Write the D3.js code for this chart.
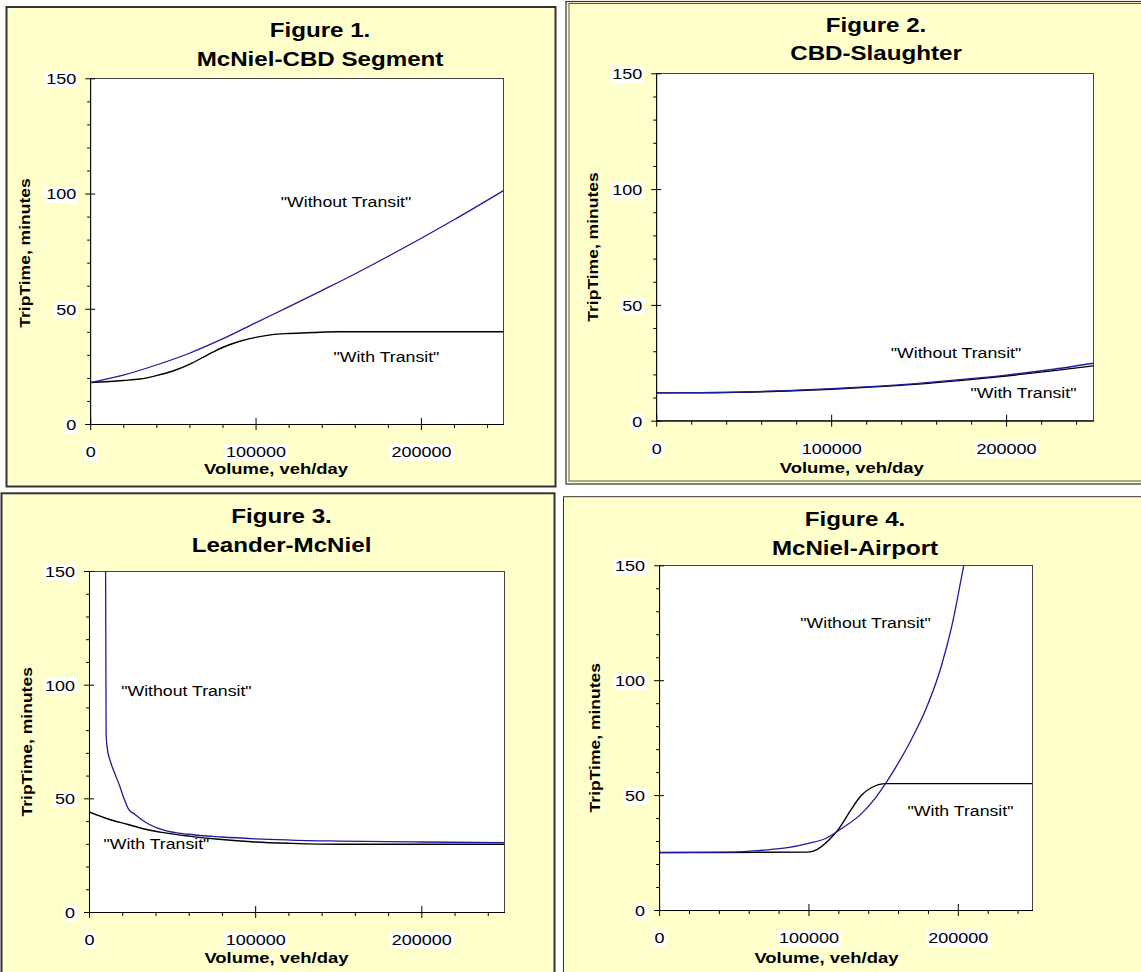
<!DOCTYPE html>
<html><head><meta charset="utf-8">
<script src="https://cdn.jsdelivr.net/npm/d3@7"></script>
<style>body{margin:0;background:#fff}svg{display:block}</style>
</head><body>
<svg id="chart" width="1141" height="972"></svg>
<script>
// ---------------- DATA ----------------
const xAxisTitle = "Volume, veh/day";
const yAxisTitle = "TripTime, minutes";
const withoutLabel = '"Without Transit"';
const withLabel = '"With Transit"';
const xTickValues = [0, 100000, 200000];
const xMinorTicks = [20000, 40000, 60000, 80000, 120000, 140000, 160000, 180000, 220000, 240000];
const yTickValues = [0, 50, 100, 150];
const yMinorTicks = [10, 20, 30, 40, 60, 70, 80, 90, 110, 120, 130, 140];
const xDomain = [0, 250000];
const yDomain = [0, 150];

// Figure 1. McNiel-CBD Segment
const fig1Title = ["Figure 1.", "McNiel-CBD Segment"];
const fig1WithoutVolume = [0, 20000, 40000, 60000, 80000, 100000, 120000, 140000, 160000, 180000, 200000, 220000, 250000];
const fig1WithoutTime   = [18, 21.2, 25.6, 30.7, 36.9, 43.9, 50.8, 57.9, 65.1, 72.7, 80.5, 88.6, 101.3];
const fig1WithVolume = [0, 20000, 30000, 40000, 50000, 60000, 70000, 80000, 90000, 100000, 110000, 120000, 135000, 150000, 200000, 250000];
const fig1WithTime   = [18, 18.9, 19.5, 21, 23, 25.9, 29.6, 33.2, 35.8, 37.6, 38.8, 39.3, 39.7, 40, 40, 40];

// Figure 2. CBD-Slaughter
const fig2Title = ["Figure 2.", "CBD-Slaughter"];
const fig2WithoutVolume = [0, 25000, 50000, 75000, 100000, 125000, 150000, 175000, 200000, 225000, 250000];
const fig2WithoutTime   = [12, 12.1, 12.4, 13.0, 13.8, 14.8, 16.1, 17.8, 19.7, 22.0, 24.8];
const fig2WithVolume = [0, 25000, 50000, 75000, 100000, 125000, 150000, 175000, 200000, 225000, 250000];
const fig2WithTime   = [12, 12.0, 12.3, 12.8, 13.6, 14.6, 15.8, 17.4, 19.3, 21.4, 23.7];

// Figure 3. Leander-McNiel
const fig3Title = ["Figure 3.", "Leander-McNiel"];
const fig3WithoutVolume = [9950, 10300, 11000, 13000, 15500, 18700, 21000, 23600, 27500, 34000, 45000, 60000, 80000, 100000, 150000, 200000, 250000];
const fig3WithoutTime   = [160, 78, 72, 66, 61, 55, 50, 45.5, 43, 39.5, 36, 34.2, 33, 32.2, 31.2, 30.8, 30.5];
const fig3WithVolume = [0, 12000, 23000, 34000, 45000, 60000, 78000, 100000, 122000, 150000, 200000, 250000];
const fig3WithTime   = [44, 40.8, 38.6, 36.4, 34.9, 33.4, 32, 30.8, 30.2, 29.8, 29.8, 29.8];

// Figure 4. McNiel-Airport
const fig4Title = ["Figure 4.", "McNiel-Airport"];
const fig4WithoutVolume = [0, 50000, 69000, 86000, 100000, 111000, 123000, 135000, 145000, 152000, 159000, 169000, 179000, 189000, 196000, 204000, 210000];
const fig4WithoutTime   = [25, 25.2, 26, 27.1, 29, 31, 35.8, 41.6, 48.9, 55.4, 62.7, 74.3, 88, 106.2, 123.6, 150, 170];
const fig4WithVolume = [0, 100000, 106000, 113000, 120000, 128000, 135000, 142000, 152000, 200000, 250000];
const fig4WithTime   = [25, 25.2, 26.4, 30, 35.1, 43.1, 49.6, 53.2, 55, 55, 55];

// ---------------- LAYOUT ----------------
const FONT = 'Arial, "Liberation Sans", Helvetica, sans-serif';
const COLORS = { panel: "#FFFFCC", without: "#1c1c9c", with: "#000000" };

const layouts = [
  { box: {x1: 6.5, y1: 7, x2: 555.5, y2: 486.5}, border: "thick",
    plot: {l: 90.2, r: 503.6, t: 78.3, b: 424}, titleX: 320, titleY: [37, 66],
    yLab: {x: 24.5, y: 253}, xLab: {x: 276, y: 474},
    wo: {x: 346, y: 206.7}, wi: {x: 386.4, y: 361.7} },
  { box: {x1: 566, y1: 1.5, x2: 1150, y2: 484}, border: "double",
    plot: {l: 656.2, r: 1093.6, t: 73.3, b: 420.7}, titleX: 876, titleY: [32, 59.5],
    yLab: {x: 592, y: 247}, xLab: {x: 851.8, y: 473},
    wo: {x: 956, y: 358.3}, wi: {x: 1023.5, y: 398.3} },
  { box: {x1: 1.5, y1: 493.3, x2: 554.5, y2: 985}, border: "thick",
    plot: {l: 89, r: 504.4, t: 571, b: 912}, titleX: 281.5, titleY: [523, 552],
    yLab: {x: 26, y: 741.8}, xLab: {x: 276.4, y: 962.5},
    wo: {x: 186.4, y: 696}, wi: {x: 156.4, y: 848.7} },
  { box: {x1: 563.5, y1: 496.7, x2: 1150, y2: 985}, border: "thin",
    plot: {l: 659.1, r: 1032.5, t: 565.3, b: 910}, titleX: 855, titleY: [526, 555.3],
    yLab: {x: 594, y: 737.7}, xLab: {x: 826.4, y: 963},
    wo: {x: 865.5, y: 627.7}, wi: {x: 960.5, y: 816} }
];

const figures = [
  { title: fig1Title, without: d3.zip(fig1WithoutVolume, fig1WithoutTime), with: d3.zip(fig1WithVolume, fig1WithTime) },
  { title: fig2Title, without: d3.zip(fig2WithoutVolume, fig2WithoutTime), with: d3.zip(fig2WithVolume, fig2WithTime) },
  { title: fig3Title, without: d3.zip(fig3WithoutVolume, fig3WithoutTime), with: d3.zip(fig3WithVolume, fig3WithTime) },
  { title: fig4Title, without: d3.zip(fig4WithoutVolume, fig4WithoutTime), with: d3.zip(fig4WithVolume, fig4WithTime) }
];

const svg = d3.select("#chart");
const defs = svg.append("defs");
const SVGNS = "http://www.w3.org/2000/svg";

function addText(g, str, x, y, o) {
  const t = g.append("text")
    .attr("transform", `translate(${x},${y})` + (o.rotate ? ` rotate(${o.rotate})` : "") + ` scale(${o.sx || 1},1)`)
    .attr("text-anchor", o.anchor || "middle")
    .attr("font-family", FONT)
    .attr("font-size", o.size)
    .attr("font-weight", o.weight || "normal")
    .attr("fill", "#000")
    .text(str);
  if (o.dy) t.attr("dy", o.dy);
  return t;
}

function addBg(textSel, pad) {
  textSel.nodes().forEach(node => {
    const bb = node.getBBox();
    const r = document.createElementNS(SVGNS, "rect");
    r.setAttribute("transform", node.getAttribute("transform"));
    r.setAttribute("x", bb.x - pad);
    r.setAttribute("y", bb.y + 1);
    r.setAttribute("width", bb.width + 2 * pad);
    r.setAttribute("height", bb.height - 1);
    r.setAttribute("fill", "#ffffff");
    r.setAttribute("stroke", "none");
    node.parentNode.insertBefore(r, node);
  });
}

figures.forEach((fig, i) => {
  const L = layouts[i];
  const g = svg.append("g");

  // panel box
  const b = L.box;
  g.append("rect").attr("x", b.x1).attr("y", b.y1)
    .attr("width", b.x2 - b.x1).attr("height", b.y2 - b.y1)
    .attr("fill", COLORS.panel)
    .attr("stroke", "#333")
    .attr("stroke-width", L.border === "thin" ? 1 : (L.border === "double" ? 1.2 : 2));
  if (L.border === "double") {
    g.append("rect").attr("x", b.x1 + 3).attr("y", b.y1 + 2)
      .attr("width", b.x2 - b.x1 - 6).attr("height", b.y2 - b.y1 - 5)
      .attr("fill", "none").attr("stroke", "#555").attr("stroke-width", 1);
  }

  const P = L.plot;
  const x = d3.scaleLinear().domain(xDomain).range([P.l, P.r]);
  const y = d3.scaleLinear().domain(yDomain).range([P.b, P.t]);

  // plot area
  g.append("rect").attr("x", P.l).attr("y", P.t)
    .attr("width", P.r - P.l).attr("height", P.b - P.t)
    .attr("fill", "#fff").attr("stroke", "#444").attr("stroke-width", 1)
    .attr("shape-rendering", "crispEdges");

  const clipId = "clip" + i;
  defs.append("clipPath").attr("id", clipId).append("rect")
    .attr("x", P.l).attr("y", P.t).attr("width", P.r - P.l).attr("height", P.b - P.t);

  // titles
  addText(g, fig.title[0], L.titleX, L.titleY[0], {size: 21, weight: "bold", sx: 1.15});
  addText(g, fig.title[1], L.titleX, L.titleY[1], {size: 21, weight: "bold", sx: 1.15});

  // axis titles
  addText(g, xAxisTitle, L.xLab.x, L.xLab.y, {size: 15.5, weight: "bold", sx: 1.19});
  addText(g, yAxisTitle, L.yLab.x, L.yLab.y, {size: 15.5, weight: "bold", sx: 1.13, rotate: -90, dy: "0.36em"});

  // lines
  const line = d3.line().x(d => x(d[0])).y(d => y(d[1])).curve(d3.curveMonotoneX);
  const lg = g.append("g").attr("clip-path", `url(#${clipId})`);
  lg.append("path").datum(fig.with).attr("d", line)
    .attr("fill", "none").attr("stroke", COLORS.with).attr("stroke-width", 1.4);
  lg.append("path").datum(fig.without).attr("d", line)
    .attr("fill", "none").attr("stroke", COLORS.without).attr("stroke-width", 1.3);

  // minor ticks
  g.append("g").attr("transform", `translate(0,${P.b})`)
    .call(d3.axisBottom(x).tickValues(xMinorTicks).tickSize(4).tickSizeOuter(0).tickFormat(""))
    .call(a => a.select(".domain").remove())
    .call(a => a.selectAll(".tick line").attr("stroke", "#000"));
  g.append("g").attr("transform", `translate(${P.l},0)`)
    .call(d3.axisLeft(y).tickValues(yMinorTicks).tickSize(3).tickSizeOuter(0).tickFormat(""))
    .call(a => a.select(".domain").remove())
    .call(a => a.selectAll(".tick line").attr("stroke", "#000"));

  // major x axis
  const xa = g.append("g").attr("transform", `translate(0,${P.b})`)
    .call(d3.axisBottom(x).tickValues(xTickValues).tickSize(6).tickSizeOuter(0).tickFormat(d3.format("d")));
  xa.select(".domain").attr("stroke", "#000");
  xa.selectAll(".tick line").attr("y1", -6).attr("stroke", "#000");
  const xt = xa.selectAll(".tick text")
    .attr("y", null).attr("dy", null)
    .attr("transform", "translate(0,33) scale(1.2,1)")
    .attr("font-family", FONT).attr("font-size", 15).attr("fill", "#000");
  addBg(xt, 1.5);

  // major y axis
  const ya = g.append("g").attr("transform", `translate(${P.l},0)`)
    .call(d3.axisLeft(y).tickValues(yTickValues).tickSize(5).tickSizeOuter(0));
  ya.select(".domain").attr("stroke", "#000");
  ya.selectAll(".tick line").attr("x1", 5).attr("stroke", "#000");
  const yt = ya.selectAll(".tick text")
    .attr("x", null).attr("dy", "0.36em")
    .attr("transform", "translate(-14,0) scale(1.2,1)")
    .attr("font-family", FONT).attr("font-size", 15).attr("fill", "#000");
  addBg(yt, 1.5);

  // series labels
  addText(g, withoutLabel, L.wo.x, L.wo.y, {size: 15, sx: 1.18});
  addText(g, withLabel, L.wi.x, L.wi.y, {size: 15, sx: 1.18});
});
</script>
</body></html>
